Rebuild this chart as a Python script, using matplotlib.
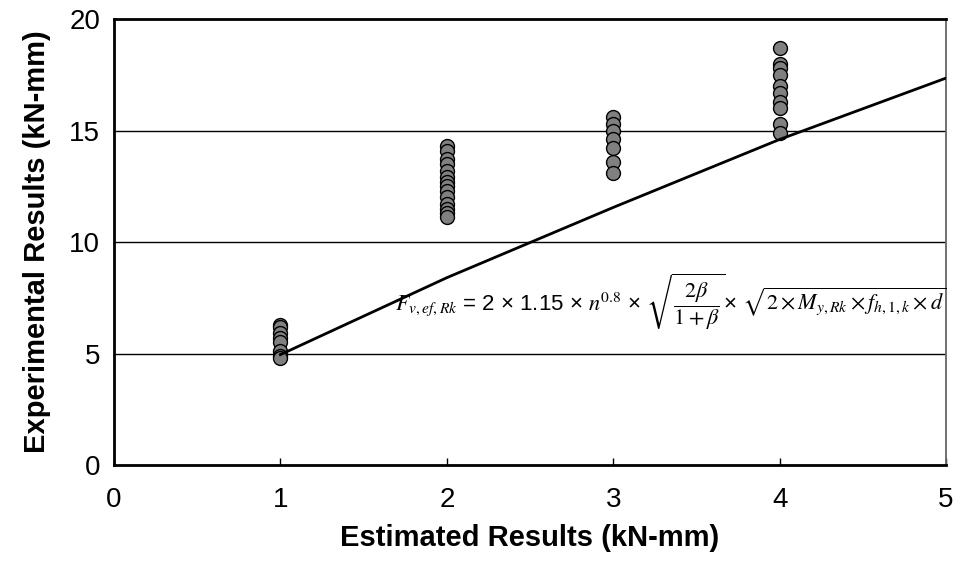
import matplotlib
matplotlib.use("Agg")
import matplotlib.pyplot as plt

# measured bending capacity per estimated level
est_1 = [6.3, 6.2, 5.9, 5.7, 5.5, 5.1, 4.9, 4.8]
est_2 = [14.3, 14.1, 13.7, 13.5, 13.2, 12.9, 12.7, 12.5, 12.3, 12.0, 11.7, 11.5, 11.3, 11.1]
est_3 = [15.6, 15.3, 15.0, 14.6, 14.2, 13.6, 13.1]
est_4 = [18.7, 18.0, 17.8, 17.5, 17.0, 16.7, 16.3, 16.0, 15.3, 14.9]

# design curve F_v,ef,Rk
curve_x = [1, 2, 3, 4, 5]
curve_y = [4.95, 8.4, 11.55, 14.6, 17.35]

plt.rcParams["font.family"] = ["Liberation Sans", "DejaVu Sans"]
plt.rcParams["mathtext.fontset"] = "stix"

fig = plt.figure(figsize=(9.6, 5.72), dpi=100)
ax = fig.add_axes([0.11875, 0.187, 0.8667, 0.7798])

for ax_x, vals in zip([1, 2, 3, 4], [est_1, est_2, est_3, est_4]):
    ax.plot([ax_x] * len(vals), vals, "o", ms=10, mfc="#808080", mec="black",
            mew=1.0, zorder=3)

ax.plot(curve_x, curve_y, "k-", lw=2.0, zorder=4)

for y in [5, 10, 15]:
    ax.axhline(y, color="black", lw=1.0, zorder=1)

ax.set_xlim(0, 5)
ax.set_ylim(0, 20)
ax.set_xticks([0, 1, 2, 3, 4, 5])
ax.set_yticks([0, 5, 10, 15, 20])
ax.tick_params(axis="x", direction="in", length=5, width=1, pad=16, labelsize=20)
ax.tick_params(axis="y", length=0, pad=10, labelsize=20)

for side in ["left", "bottom", "top"]:
    ax.spines[side].set_linewidth(2)
    ax.spines[side].set_color("black")
ax.spines["right"].set_linewidth(1.3)
ax.spines["right"].set_color("#666666")

ax.set_xlabel("Estimated Results (kN-mm)", fontsize=21, fontweight="bold", labelpad=8)
ax.set_ylabel("Experimental Results (kN-mm)", fontsize=21, fontweight="bold", labelpad=13)

ax.text(1.69, 7.3,
        r"$F_{v,ef,Rk}$ = 2 × 1.15 × $n^{0.8}$ × $\sqrt{\dfrac{2\beta}{1+\beta}}$× "
        r"$\sqrt{2 \times M_{y,Rk} \times f_{h,1,k} \times d}$",
        fontsize=16, va="center", ha="left", zorder=5)

fig.savefig("out.png", dpi=100)
